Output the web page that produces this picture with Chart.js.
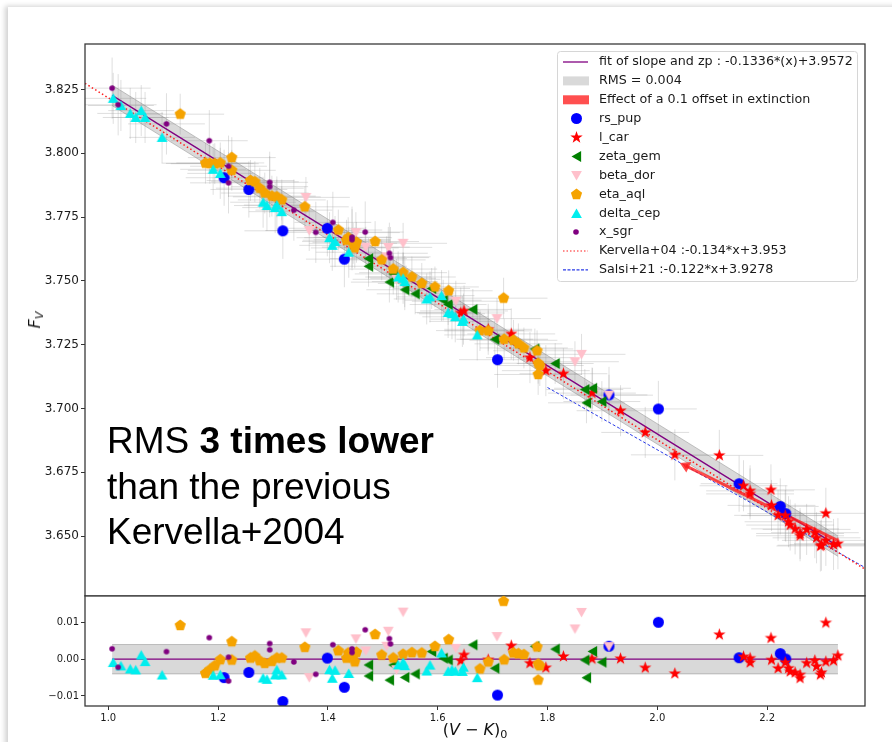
<!DOCTYPE html>
<html>
<head>
<meta charset="utf-8">
<script src="https://cdn.jsdelivr.net/npm/chart.js@4.4.1/dist/chart.umd.min.js"></script>
<style>
  body{margin:0;background:#fff;width:892px;height:742px;position:relative;overflow:hidden;font-family:"DejaVu Sans",sans-serif}
  .card{position:absolute;left:8px;top:7px;width:900px;height:760px;background:#fff;box-shadow:-3px -1px 5px rgba(0,0,0,0.18)}
  #top{position:absolute;left:0;top:0}
  #bot{position:absolute;left:0;top:595px}
  .note{position:absolute;left:107px;top:418px;font-family:"Liberation Sans",Arial,sans-serif;font-size:37px;line-height:45.5px;color:#000;white-space:nowrap}
  .ylab{position:absolute;left:35px;top:320px;transform:translate(-50%,-50%) rotate(-90deg);font-size:16px;line-height:18px;color:#111;white-space:nowrap}
  .xlab{position:absolute;left:85px;width:780px;top:721px;text-align:center;font-size:16px;line-height:18px;color:#111}
  sub{font-size:70%;vertical-align:-0.3em;line-height:0}
</style>
</head>
<body>
<div class="card"></div>
<canvas id="top" width="892" height="600"></canvas>
<canvas id="bot" width="892" height="147"></canvas>
<div class="ylab"><i>F</i><sub><i>V</i></sub></div>
<div class="xlab">(<i>V</i> − <i>K</i>)<sub>0</sub></div>
<div class="note">RMS <b>3 times lower</b><br>than the previous<br>Kervella+2004</div>
<script>
// relations montrées sur le graphe
const fitSlope = -0.1336, fitZp = 3.9572, fitRms = 0.004;
const kervSlope = -0.134, kervZp = 3.953;
const kervDrawnZp = 3.9557; // la ligne pointillée est tracée un peu plus haut que la légende
const salsiSlope = -0.122, salsiZp = 3.9278, salsiFrom = 1.80;

// limites et graduations
const xMin = 0.9576, xMax = 2.3783;
const yTopMin = 3.6265, yTopMax = 3.8428;
const yResMin = -0.01275, yResMax = 0.0175;
const xTicks = [1.0, 1.2, 1.4, 1.6, 1.8, 2.0, 2.2];
const yTicksTop = [3.650, 3.675, 3.700, 3.725, 3.750, 3.775, 3.800, 3.825];
const yTicksRes = [-0.01, 0.00, 0.01];

// flèche : effet de 0.1 en extinction
const extX = [2.052, 2.327];
const extFv = [3.6775, 3.6484];

// étoiles : (V-K)0 et F_V
const rsPupX = [1.211, 1.256, 1.318, 1.399, 1.430, 1.709, 1.912, 2.002, 2.149, 2.224, 2.234];
const rsPupFv = [3.7904, 3.7858, 3.7696, 3.7706, 3.7585, 3.7191, 3.7053, 3.6998, 3.6705, 3.6616, 3.6588];

const lCarX = [1.648, 1.642, 1.692, 1.734, 1.768, 1.797, 1.829, 1.881, 1.933, 1.978, 2.032, 2.113, 2.157, 2.169, 2.169, 2.207, 2.208, 2.220, 2.233, 2.239, 2.242, 2.251, 2.260, 2.260, 2.272, 2.287, 2.290, 2.299, 2.297, 2.307, 2.307, 2.321, 2.329];
const lCarFv = [3.7382, 3.7374, 3.7310, 3.7292, 3.7199, 3.7148, 3.7136, 3.7060, 3.6991, 3.6906, 3.6818, 3.6816, 3.6697, 3.6677, 3.6665, 3.6681, 3.6620, 3.6581, 3.6580, 3.6556, 3.6543, 3.6528, 3.6510, 3.6501, 3.6526, 3.6513, 3.6493, 3.6464, 3.6461, 3.6589, 3.6483, 3.6467, 3.6470];

const zetaGemX = [1.474, 1.474, 1.512, 1.540, 1.559, 1.519, 1.589, 1.610, 1.619, 1.664, 1.704, 1.777, 1.814, 1.868, 1.882, 1.899, 1.871];
const zetaGemFv = [3.7587, 3.7557, 3.7495, 3.7465, 3.7449, 3.7527, 3.7470, 3.7424, 3.7407, 3.7388, 3.7271, 3.7233, 3.7176, 3.7074, 3.7079, 3.7027, 3.7022];

const betaDorX = [1.360, 1.366, 1.451, 1.469, 1.510, 1.507, 1.537, 1.525, 1.633, 1.708, 1.850, 1.862, 1.912];
const betaDorFv = [3.7827, 3.7697, 3.7689, 3.7632, 3.7631, 3.7594, 3.7647, 3.7506, 3.7420, 3.7352, 3.7183, 3.7212, 3.7052];

const etaAqlX = [1.131, 1.177, 1.185, 1.194, 1.204, 1.225, 1.225, 1.259, 1.267, 1.276, 1.285, 1.298, 1.307, 1.316, 1.358, 1.419, 1.434, 1.437, 1.446, 1.449, 1.452, 1.486, 1.498, 1.519, 1.537, 1.553, 1.571, 1.595, 1.620, 1.677, 1.692, 1.720, 1.721, 1.738, 1.747, 1.757, 1.781, 1.783, 1.786, 1.783];
const etaAqlFv = [3.8153, 3.7961, 3.7960, 3.7959, 3.7962, 3.7983, 3.7933, 3.7893, 3.7888, 3.7863, 3.7844, 3.7832, 3.7829, 3.7817, 3.7790, 3.7699, 3.7659, 3.7669, 3.7647, 3.7629, 3.7651, 3.7654, 3.7582, 3.7546, 3.7532, 3.7515, 3.7490, 3.7476, 3.7461, 3.7305, 3.7304, 3.7432, 3.7271, 3.7267, 3.7253, 3.7237, 3.7226, 3.7177, 3.7168, 3.7133];

const deltaCepX = [1.009, 1.023, 1.040, 1.050, 1.060, 1.067, 1.098, 1.191, 1.204, 1.282, 1.289, 1.304, 1.307, 1.316, 1.403, 1.413, 1.408, 1.438, 1.528, 1.537, 1.540, 1.580, 1.586, 1.607, 1.619, 1.626, 1.632, 1.645, 1.647, 1.672];
const deltaCepFv = [3.8215, 3.8187, 3.8156, 3.8140, 3.8167, 3.8140, 3.8062, 3.7937, 3.7921, 3.7808, 3.7795, 3.7787, 3.7797, 3.7771, 3.7669, 3.7654, 3.7639, 3.7612, 3.7515, 3.7510, 3.7497, 3.7429, 3.7437, 3.7442, 3.7376, 3.7371, 3.7359, 3.7341, 3.7350, 3.7288];

const xSgrX = [1.007, 1.018, 1.106, 1.184, 1.219, 1.219, 1.294, 1.294, 1.338, 1.378, 1.409, 1.444, 1.444, 1.468, 1.512, 1.514];
const xSgrFv = [3.8255, 3.8190, 3.8115, 3.8049, 3.7949, 3.7884, 3.7886, 3.7869, 3.7777, 3.7690, 3.7729, 3.7671, 3.7661, 3.7691, 3.7608, 3.7591];

// couleurs
const fitColor = '#800080';
const bandFill = 'rgba(128,128,128,0.3)';
const bandEdge = 'rgba(128,128,128,0.45)';
const extColor = 'rgba(255,30,30,0.8)';
const kervColor = '#ff1a1a';
const salsiColor = '#2a3be8';
const errColor = 'rgba(150,150,150,0.3)';
const tickFont = {family: 'DejaVu Sans'};

// marqueurs dessinés sur un petit canvas
const marker = (shape, color) => {
    const c = document.createElement('canvas');
    const s = shape === 'dot' ? 8 : 15;
    c.width = c.height = s;
    const g = c.getContext('2d'), m = s / 2;
    g.fillStyle = color;
    g.beginPath();
    if (shape === 'circle') g.arc(m, m, 5.5, 0, Math.PI * 2);
    else if (shape === 'dot') g.arc(m, m, 2.8, 0, Math.PI * 2);
    else if (shape === 'up') { g.moveTo(m, m - 5); g.lineTo(m + 5.4, m + 4.6); g.lineTo(m - 5.4, m + 4.6); }
    else if (shape === 'down') { g.moveTo(m, m + 5); g.lineTo(m + 5.4, m - 4.6); g.lineTo(m - 5.4, m - 4.6); }
    else if (shape === 'left') { g.moveTo(m - 5, m); g.lineTo(m + 4.6, m - 5.4); g.lineTo(m + 4.6, m + 5.4); }
    else if (shape === 'pent') {
        for (let k = 0; k < 5; k++) {
            const a = -Math.PI / 2 + k * 2 * Math.PI / 5;
            g.lineTo(m + 5.9 * Math.cos(a), m + 5.9 * Math.sin(a));
        }
    } else if (shape === 'star') {
        for (let k = 0; k < 10; k++) {
            const a = -Math.PI / 2 + k * Math.PI / 5, r = k % 2 ? 2.6 : 6.5;
            g.lineTo(m + r * Math.cos(a), m + r * Math.sin(a));
        }
    }
    g.closePath();
    g.fill();
    return c;
};

const stars = [
    {label: 'rs_pup', x: rsPupX, fv: rsPupFv, ex: 0.07, ey: 0.011, mk: marker('circle', '#0000ff')},
    {label: 'l_car', x: lCarX, fv: lCarFv, ex: 0.08, ey: 0.010, mk: marker('star', '#ff0000')},
    {label: 'zeta_gem', x: zetaGemX, fv: zetaGemFv, ex: 0.07, ey: 0.008, mk: marker('left', '#008000')},
    {label: 'beta_dor', x: betaDorX, fv: betaDorFv, ex: 0.08, ey: 0.008, mk: marker('down', '#ffc0cb')},
    {label: 'eta_aql', x: etaAqlX, fv: etaAqlFv, ex: 0.08, ey: 0.008, mk: marker('pent', '#f5a300')},
    {label: 'delta_cep', x: deltaCepX, fv: deltaCepFv, ex: 0.06, ey: 0.010, mk: marker('up', '#00eeee')},
    {label: 'x_sgr', x: xSgrX, fv: xSgrFv, ex: 0.07, ey: 0.012, mk: marker('dot', '#800080')}
];

const fitAt = x => fitSlope * x + fitZp;
const allX = stars.flatMap(s => s.x);
const fitX0 = Math.min(...allX), fitX1 = Math.max(...allX);

const lineSet = (pts, color, width, dash, order) => ({
    type: 'line', data: pts, borderColor: color, borderWidth: width, borderDash: dash,
    pointRadius: 0, fill: false, tension: 0, order: order
});

// cadre autour de la zone de tracé
const framePlugin = {
    id: 'frame',
    afterDraw(chart) {
        const {ctx, chartArea: a} = chart;
        ctx.save();
        ctx.strokeStyle = '#3a3a3a';
        ctx.lineWidth = 1.3;
        ctx.strokeRect(a.left, a.top, a.right - a.left, a.bottom - a.top);
        ctx.restore();
    }
};

// barres d'erreur grises
const errPlugin = {
    id: 'errBars',
    beforeDatasetsDraw(chart) {
        const {ctx, chartArea: a, scales: {x, y}} = chart;
        ctx.save();
        ctx.beginPath();
        ctx.rect(a.left, a.top, a.right - a.left, a.bottom - a.top);
        ctx.clip();
        ctx.strokeStyle = errColor;
        ctx.lineWidth = 1;
        stars.forEach(s => {
            s.x.forEach((vx, i) => {
                const vy = s.fv[i];
                const px = x.getPixelForValue(vx), py = y.getPixelForValue(vy);
                ctx.beginPath();
                ctx.moveTo(x.getPixelForValue(vx - s.ex), py);
                ctx.lineTo(x.getPixelForValue(vx + s.ex), py);
                ctx.moveTo(px, y.getPixelForValue(vy - s.ey));
                ctx.lineTo(px, y.getPixelForValue(vy + s.ey));
                ctx.stroke();
            });
        });
        ctx.restore();
    }
};

// légende en haut à droite
const legendRows = [
    {kind: 'line', color: fitColor, dash: [], text: `fit of slope and zp : ${fitSlope}*(x)+${fitZp}`},
    {kind: 'rect', color: '#d9d9d9', text: `RMS = ${fitRms}`},
    {kind: 'rect', color: '#ff4f4f', text: 'Effect of a 0.1 offset in extinction'},
    ...stars.map(s => ({kind: 'mk', mk: s.mk, text: s.label})),
    {kind: 'line', color: kervColor, dash: [1.5, 2], text: `Kervella+04 :${kervSlope}*x+${kervZp}`},
    {kind: 'line', color: salsiColor, dash: [3, 1.5], text: `Salsi+21 :${salsiSlope}*x+${salsiZp}`}
];

const legendPlugin = {
    id: 'cornerLegend',
    afterDatasetsDraw(chart) {
        const ctx = chart.ctx;
        const x0 = 557.5, y0 = 51.5, w = 300, h = 230;
        ctx.save();
        ctx.beginPath();
        ctx.roundRect(x0, y0, w, h, 3);
        ctx.fillStyle = 'rgba(255,255,255,0.85)';
        ctx.fill();
        ctx.strokeStyle = '#d6d6d6';
        ctx.lineWidth = 1;
        ctx.stroke();
        ctx.font = '12.7px "DejaVu Sans"';
        ctx.textBaseline = 'middle';
        legendRows.forEach((r, i) => {
            const cy = 62 + i * 18.9;
            if (r.kind === 'line') {
                ctx.beginPath();
                ctx.setLineDash(r.dash);
                ctx.strokeStyle = r.color;
                ctx.lineWidth = r.dash.length ? 1.2 : 1.3;
                ctx.moveTo(563, cy);
                ctx.lineTo(588, cy);
                ctx.stroke();
                ctx.setLineDash([]);
            } else if (r.kind === 'rect') {
                ctx.fillStyle = r.color;
                ctx.fillRect(563, cy - 4.5, 26, 9);
            } else {
                ctx.drawImage(r.mk, Math.round(576 - r.mk.width / 2), Math.round(cy - r.mk.height / 2));
            }
            ctx.fillStyle = '#1a1a1a';
            ctx.fillText(r.text, 599, cy);
        });
        ctx.restore();
    }
};

const yAxis = (min, max, ticks, size, fmt) => ({
    type: 'linear', min: min, max: max,
    afterBuildTicks: a => { a.ticks = ticks.map(v => ({value: v})); },
    afterFit: a => { a.width = 85; a.paddingTop = 0; a.paddingBottom = 0; },
    grid: {drawOnChartArea: false, drawTicks: true, tickLength: 4, color: '#333'},
    border: {display: false},
    ticks: {font: {...tickFont, size: size}, color: '#1a1a1a', padding: 2, callback: fmt}
});

// panneau du haut
const topSets = [
    {type: 'line', data: [{x: fitX0, y: fitAt(fitX0) + fitRms}, {x: fitX1, y: fitAt(fitX1) + fitRms}],
     fill: '+1', backgroundColor: bandFill, borderColor: bandEdge, borderWidth: 1, pointRadius: 0, order: 20},
    {type: 'line', data: [{x: fitX0, y: fitAt(fitX0) - fitRms}, {x: fitX1, y: fitAt(fitX1) - fitRms}],
     fill: false, borderColor: bandEdge, borderWidth: 1, pointRadius: 0, order: 20},
    lineSet([{x: fitX0, y: fitAt(fitX0)}, {x: fitX1, y: fitAt(fitX1)}], fitColor, 1.3, [], 15),
    lineSet([{x: xMin, y: kervSlope * xMin + kervDrawnZp}, {x: xMax, y: kervSlope * xMax + kervDrawnZp}], kervColor, 1.5, [1.5, 2.5], 16),
    lineSet([{x: salsiFrom, y: salsiSlope * salsiFrom + salsiZp}, {x: xMax, y: salsiSlope * xMax + salsiZp}], salsiColor, 1, [3, 2], 16),
    {type: 'line', data: extX.map((v, i) => ({x: v, y: extFv[i]})), borderColor: extColor, borderWidth: 3.2,
     backgroundColor: extColor, pointStyle: 'triangle', pointRadius: [3.5, 0], pointRotation: -64, fill: false, order: 14},
    ...stars.map((s, i) => ({
        type: 'scatter', label: s.label, data: s.x.map((v, j) => ({x: v, y: s.fv[j]})),
        pointStyle: s.mk, pointRadius: 5, order: 7 - i
    }))
];

new Chart(document.getElementById('top'), {
    type: 'scatter',
    data: {datasets: topSets},
    options: {
        responsive: false, animation: false, devicePixelRatio: 1, events: [],
        layout: {autoPadding: false, padding: {left: 0, top: 44, right: 27, bottom: 4}},
        plugins: {legend: {display: false}, tooltip: {enabled: false}},
        scales: {
            x: {type: 'linear', min: xMin, max: xMax, display: false},
            y: yAxis(yTopMin, yTopMax, yTicksTop, 12, v => v.toFixed(3))
        }
    },
    plugins: [errPlugin, legendPlugin, framePlugin]
});

// panneau du bas : résidus par rapport à l'ajustement
const botSets = [
    {type: 'line', data: [{x: fitX0, y: fitRms}, {x: fitX1, y: fitRms}],
     fill: '+1', backgroundColor: bandFill, borderColor: bandEdge, borderWidth: 1, pointRadius: 0, order: 20},
    {type: 'line', data: [{x: fitX0, y: -fitRms}, {x: fitX1, y: -fitRms}],
     fill: false, borderColor: bandEdge, borderWidth: 1, pointRadius: 0, order: 20},
    lineSet([{x: fitX0, y: 0}, {x: fitX1, y: 0}], fitColor, 1.3, [], 15),
    ...stars.map((s, i) => ({
        type: 'scatter', label: s.label, data: s.x.map((v, j) => ({x: v, y: s.fv[j] - fitAt(v)})),
        pointStyle: s.mk, pointRadius: 5, order: 7 - i
    }))
];

new Chart(document.getElementById('bot'), {
    type: 'scatter',
    data: {datasets: botSets},
    options: {
        responsive: false, animation: false, devicePixelRatio: 1, events: [],
        layout: {autoPadding: false, padding: {left: 0, top: 0, right: 27, bottom: 0}},
        plugins: {legend: {display: false}, tooltip: {enabled: false}},
        scales: {
            x: {
                type: 'linear', min: xMin, max: xMax,
                afterBuildTicks: a => { a.ticks = xTicks.map(v => ({value: v})); },
                afterFit: a => { a.height = 36; a.paddingLeft = 0; a.paddingRight = 0; },
                grid: {drawOnChartArea: false, drawTicks: true, tickLength: 4, color: '#333'},
                border: {display: false},
                ticks: {font: {...tickFont, size: 10}, color: '#1a1a1a', padding: 2, maxRotation: 0, autoSkip: false,
                        callback: v => v.toFixed(1)}
            },
            y: yAxis(yResMin, yResMax, yTicksRes, 10, v => (v < 0 ? '\u2212' : '') + Math.abs(v).toFixed(2))
        }
    },
    plugins: [framePlugin]
});
</script>
</body>
</html>
